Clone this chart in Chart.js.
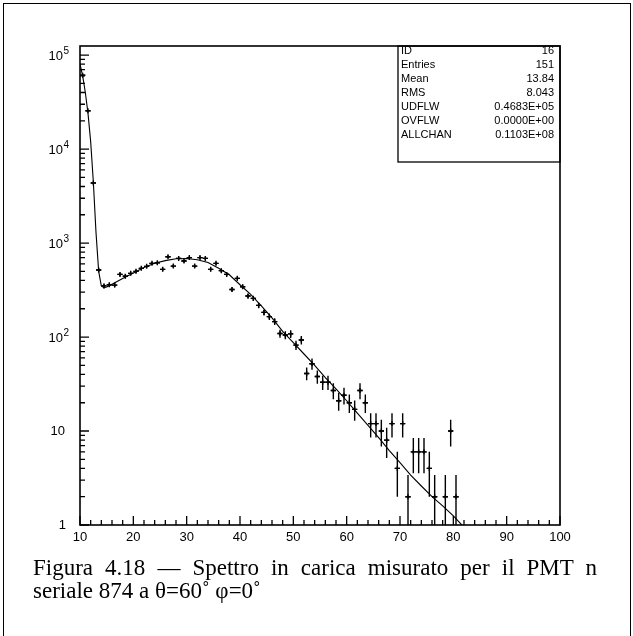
<!DOCTYPE html>
<html>
<head>
<meta charset="utf-8">
<script src="https://cdn.jsdelivr.net/npm/chart.js@4.4.1/dist/chart.umd.min.js"></script>
<style>
  html, body { margin:0; padding:0; background:#fff; }
  #wrap { position:relative; width:633px; height:636px; overflow:hidden; }
  #frame { position:absolute; left:3px; top:3px; width:628px; height:640px; border:1.5px solid #000; box-sizing:border-box; }
  canvas { position:absolute; left:0; top:0; }
  .cap { position:absolute; left:33px; width:564px; font-family:"Liberation Serif","Times New Roman",serif; font-size:23px; line-height:23px; color:#000; }
  #cap1 { top:556px; text-align:justify; text-align-last:justify; }
  #cap2 { top:579px; text-align:left; }
</style>
</head>
<body>
<div id="wrap">
  <div id="frame"></div>
  <canvas id="c" width="633" height="636"></canvas>
  <div class="cap" id="cap1">Figura 4.18 — Spettro in carica misurato per il PMT n</div>
  <div class="cap" id="cap2">seriale 874 a θ=60˚ φ=0˚</div>
</div>
<script>
// ---- data ----
const binCenters = [10.5,11.5,12.5,13.5,14.5,15.5,16.5,17.5,18.5,19.5,
  20.5,21.5,22.5,23.5,24.5,25.5,26.5,27.5,28.5,29.5,
  30.5,31.5,32.5,33.5,34.5,35.5,36.5,37.5,38.5,39.5,
  40.5,41.5,42.5,43.5,44.5,45.5,46.5,47.5,48.5,49.5,
  50.5,51.5,52.5,53.5,54.5,55.5,56.5,57.5,58.5,59.5,
  60.5,61.5,62.5,63.5,64.5,65.5,66.5,67.5,68.5,69.5,
  70.5,71.5,72.5,73.5,74.5,75.5,76.5,78.5,79.5,80.5];
const counts = [61000,25600,4350,516,350,360,357,464,444,476,
  500,538,565,608,617,525,715,569,687,644,
  700,569,700,687,525,608,509,464,321,421,
  343,273,258,217,183,165,146,109,105,108,
  82,93,41,52,38,33,33,27,21,24,
  20,17,27,20,12,12,10,8,12,4,
  12,2,6,6,6,4,2,2,10,2];
const fitX = [10,10.5,11,11.5,12,12.5,13,13.5,14,14.5,15,16,18,20,22,24,26,28,30,32,34,36,38,40,42,44,46,48,50,52,54,56,58,60,62,64,66,68,70,72,74,76,78,80,81.6];
const fitY = [80000,60000,40000,24000,12000,4500,1300,500,350,335,340,365,420,480,550,610,650,680,685,665,620,540,460,360,285,215,160,115,87,66,50,37,28,21,15.5,11.5,8.5,6.2,4.6,3.4,2.6,2.0,1.6,1.25,1.0];
const xMajorTicks = [10,20,30,40,50,60,70,80,90,100];
const yDecades = [0,1,2,3,4,5];
const statLabels = ["ID","Entries","Mean","RMS","UDFLW","OVFLW","ALLCHAN"];
const statValues = ["16","151","13.84","8.043","0.4683E+05","0.0000E+00","0.1103E+08"];

const pts = binCenters.map((x,i)=>({x:x, y:counts[i]}));
const fitPts = fitX.map((x,i)=>({x:x, y:fitY[i]}));

const decor = {
  id:'decor',
  afterDatasetsDraw(chart){
    const ctx = chart.ctx, xs = chart.scales.x, ys = chart.scales.y, a = chart.chartArea;
    ctx.save();
    // error bars
    ctx.strokeStyle = '#000'; ctx.lineWidth = 1.4;
    pts.forEach(p=>{
      const e = Math.sqrt(p.y);
      const px = xs.getPixelForValue(p.x), py = ys.getPixelForValue(p.y);
      const lo = Math.max(p.y - e, 1);
      const yl = ys.getPixelForValue(lo), yh = ys.getPixelForValue(p.y + e);
      ctx.beginPath();
      ctx.moveTo(px, Math.min(yl, a.bottom)); ctx.lineTo(px, yh);
      ctx.moveTo(xs.getPixelForValue(p.x-0.5), py); ctx.lineTo(xs.getPixelForValue(p.x+0.5), py);
      ctx.stroke();
    });
    // frame
    ctx.lineWidth = 1.6;
    ctx.strokeRect(a.left, a.top, a.right-a.left, a.bottom-a.top);
    // x ticks
    ctx.lineWidth = 1.3;
    ctx.beginPath();
    for (let v=10; v<=100; v+=2){
      const px = xs.getPixelForValue(v);
      const len = (v%10===0) ? 9 : 5;
      ctx.moveTo(px, a.bottom); ctx.lineTo(px, a.bottom-len);
    }
    // y ticks
    yDecades.forEach(d=>{
      for (let k=1;k<=9;k++){
        const v = k*Math.pow(10,d);
        if (v > ys.max) break;
        const py = ys.getPixelForValue(v);
        const len = (k===1) ? 9 : 5;
        ctx.moveTo(a.left, py); ctx.lineTo(a.left+len, py);
      }
    });
    ctx.stroke();
    // x labels
    ctx.fillStyle = '#000';
    ctx.font = '13px "Liberation Sans", Arial, sans-serif';
    ctx.textAlign = 'center'; ctx.textBaseline = 'middle';
    xMajorTicks.forEach(v=>{
      ctx.fillText(String(v), xs.getPixelForValue(v), a.bottom+12);
    });
    // y labels
    yDecades.forEach(d=>{
      const py = ys.getPixelForValue(Math.pow(10,d));
      ctx.font = '13px "Liberation Sans", Arial, sans-serif';
      ctx.textBaseline = 'middle';
      if (d===0){ ctx.textAlign='right'; ctx.fillText('1', 66, py); }
      else if (d===1){ ctx.textAlign='right'; ctx.fillText('10', 65, py); }
      else {
        ctx.textAlign='right'; ctx.fillText('10', 63, py+1);
        ctx.font = '10px "Liberation Sans", Arial, sans-serif';
        ctx.textAlign='left'; ctx.fillText(String(d), 63.5, py-4);
      }
    });
    // stats box
    ctx.lineWidth = 1.3;
    ctx.strokeRect(398, a.top, a.right-398, 116);
    ctx.font = '11px "Liberation Sans", Arial, sans-serif';
    ctx.textBaseline = 'middle';
    statLabels.forEach((s,i)=>{
      const y = 51 + i*14;
      ctx.textAlign='left'; ctx.fillText(s, 401, y);
      ctx.textAlign='right'; ctx.fillText(statValues[i], 554, y);
    });
    ctx.restore();
  }
};

new Chart(document.getElementById('c'), {
  type:'scatter',
  data:{ datasets:[
    { data: fitPts, showLine:true, borderColor:'#000', borderWidth:1.1, pointRadius:0, tension:0, fill:false },
    { data: pts, showLine:false, pointStyle:'cross', pointRadius:2.5, borderColor:'#000', backgroundColor:'#000', borderWidth:1.4 }
  ]},
  options:{
    responsive:false, animation:false,
    layout:{ padding:{ left:80, top:46, right:73, bottom:111 } },
    plugins:{ legend:{display:false}, tooltip:{enabled:false} },
    scales:{
      x:{ type:'linear', min:10, max:100, display:false },
      y:{ type:'logarithmic', min:1, max:125000, display:false }
    }
  },
  plugins:[decor]
});
</script>
</body>
</html>
